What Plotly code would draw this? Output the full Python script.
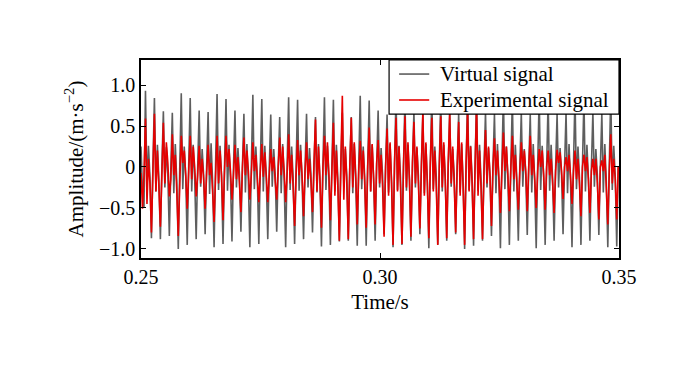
import numpy as np
import plotly.graph_objects as go

# ---------------- data ----------------
t_start = 0.25
t_step = 0.000312

virtual_signal = [
    0.25, -0.30, -0.50,
    0.93, -0.28, 0.26, -0.12, -0.87, 0.02,
    0.84, -0.30, 0.27, -0.15, -0.88, 0.00,
    0.68, -0.25, 0.24, -0.10, -0.84, -0.02,
    0.66, -0.32, 0.28, -0.18, -1.00, 0.01,
    0.90, -0.27, 0.25, -0.12, -0.95, 0.03,
    0.84, -0.30, 0.27, -0.14, -0.88, -0.01,
    0.69, -0.24, 0.22, -0.10, -0.82, 0.00,
    0.67, -0.33, 0.29, -0.17, -0.98, 0.02,
    0.89, -0.28, 0.26, -0.12, -0.94, 0.01,
    0.83, -0.29, 0.27, -0.15, -0.91, -0.02,
    0.69, -0.25, 0.23, -0.09, -0.79, 0.00,
    0.65, -0.31, 0.28, -0.18, -0.98, 0.02,
    0.88, -0.27, 0.25, -0.13, -0.94, 0.01,
    0.83, -0.30, 0.26, -0.14, -0.88, -0.01,
    0.64, -0.24, 0.22, -0.10, -0.79, 0.00,
    0.61, -0.32, 0.28, -0.17, -0.98, 0.03,
    0.85, -0.28, 0.25, -0.12, -0.94, 0.01,
    0.82, -0.29, 0.27, -0.15, -0.88, -0.02,
    0.65, -0.25, 0.23, -0.10, -0.80, 0.00,
    0.61, -0.31, 0.28, -0.17, -0.97, 0.02,
    0.85, -0.28, 0.26, -0.13, -0.95, 0.01,
    0.82, -0.30, 0.27, -0.14, -0.91, -0.01,
    0.66, -0.24, 0.22, -0.10, -0.90, 0.00,
    0.61, -0.32, 0.28, -0.18, -0.96, 0.02,
    0.87, -0.27, 0.25, -0.12, -0.96, 0.01,
    0.81, -0.30, 0.27, -0.15, -0.90, -0.01,
    0.69, -0.25, 0.23, -0.10, -0.82, 0.00,
    0.64, -0.31, 0.28, -0.17, -0.98, 0.02,
    0.88, -0.28, 0.26, -0.12, -0.95, 0.01,
    0.84, -0.29, 0.27, -0.15, -0.90, -0.02,
    0.68, -0.25, 0.23, -0.10, -0.82, 0.00,
    0.65, -0.32, 0.28, -0.17, -0.99, 0.02,
    0.89, -0.27, 0.25, -0.12, -0.95, 0.01,
    0.84, -0.30, 0.27, -0.14, -0.90, -0.01,
    0.67, -0.24, 0.22, -0.10, -0.82, 0.00,
    0.65, -0.31, 0.28, -0.18, -1.00, 0.02,
    0.89, -0.28, 0.26, -0.12, -0.96, 0.01,
    0.84, -0.29, 0.27, -0.15, -0.90, -0.02,
    0.67, -0.25, 0.23, -0.10, -0.84, 0.00,
    0.65, -0.32, 0.28, -0.17, -0.99, 0.02,
    0.88, -0.27, 0.25, -0.12, -0.95, 0.01,
    0.83, -0.30, 0.27, -0.14, -0.90, -0.01,
    0.66, -0.24, 0.22, -0.10, -0.83, 0.00,
    0.64, -0.31, 0.28, -0.18, -0.99, 0.02,
    0.87, -0.28, 0.26, -0.12, -0.95, 0.01,
    0.82, -0.29, 0.27, -0.15, -0.90, -0.02,
    0.65, -0.25, 0.23, -0.10, -0.82, 0.00,
    0.66, -0.32, 0.28, -0.17, -0.98, 0.02,
    0.88, -0.27, 0.25, -0.12, -0.95, 0.01,
    0.84, -0.30, 0.27, -0.14, -0.90, -0.01,
    0.67, -0.24, 0.22, -0.10, -0.83, 0.00,
    0.65, -0.31, 0.28, -0.18, -0.98, 0.02,
    0.90, -0.28, 0.26, -0.12, -0.97, 0.01,
]

experimental_signal = [
    -0.07, -0.51, -0.10,
    0.59, -0.45, 0.10, -0.20, -0.80, -0.05,
    0.65, -0.30, 0.20, -0.25, -0.73, -0.10,
    0.54, -0.20, 0.30, 0.05, -0.36, -0.15,
    0.40, -0.10, 0.15, -0.30, -0.84, -0.20,
    0.38, 0.05, 0.20, -0.10, -0.51, -0.05,
    0.38, -0.15, 0.25, 0.00, -0.36, -0.10,
    0.26, -0.20, 0.10, -0.15, -0.51, -0.08,
    0.27, -0.10, 0.05, -0.30, -0.67, -0.12,
    0.38, -0.20, 0.20, -0.10, -0.65, -0.05,
    0.38, 0.00, 0.22, -0.05, -0.40, -0.10,
    0.27, -0.15, 0.12, -0.20, -0.55, -0.02,
    0.36, -0.10, 0.20, -0.05, -0.40, -0.08,
    0.30, -0.05, 0.15, -0.15, -0.43, -0.05,
    0.28, -0.12, 0.18, -0.10, -0.43, -0.10,
    0.22, -0.05, 0.12, -0.18, -0.40, 0.00,
    0.36, -0.10, 0.25, -0.05, -0.43, -0.08,
    0.40, -0.20, 0.15, -0.25, -0.72, -0.10,
    0.33, -0.10, 0.20, -0.10, -0.60, -0.05,
    0.30, -0.15, 0.10, -0.20, -0.55, 0.05,
    0.58, -0.30, 0.25, -0.15, -0.74, 0.00,
    0.38, -0.10, 0.30, -0.10, -0.65, -0.05,
    0.54, -0.35, 0.20, -0.25, -0.90, 0.05,
    0.87, -0.40, 0.25, -0.20, -0.88, 0.00,
    0.60, -0.25, 0.30, -0.10, -0.70, -0.05,
    0.32, -0.15, 0.20, -0.20, -0.74, 0.00,
    0.48, -0.30, 0.28, -0.15, -0.70, 0.05,
    0.33, -0.20, 0.15, -0.25, -0.85, 0.00,
    0.47, -0.35, 0.30, -0.20, -0.95, 0.05,
    0.60, -0.30, 0.25, -0.25, -0.94, 0.00,
    0.62, -0.25, 0.30, -0.15, -0.85, 0.05,
    0.55, -0.20, 0.25, -0.20, -0.75, 0.00,
    0.68, -0.35, 0.30, -0.20, -0.87, 0.05,
    0.60, -0.30, 0.20, -0.25, -0.95, 0.00,
    0.62, -0.25, 0.30, -0.15, -0.87, 0.05,
    0.65, -0.20, 0.25, -0.20, -0.80, 0.00,
    0.55, -0.35, 0.30, -0.25, -0.95, 0.05,
    0.70, -0.30, 0.25, -0.20, -0.88, 0.00,
    0.75, -0.35, 0.20, -0.25, -0.88, -0.05,
    0.45, -0.20, 0.25, -0.10, -0.72, 0.00,
    0.35, -0.10, 0.20, -0.15, -0.56, -0.05,
    0.42, -0.05, 0.25, -0.10, -0.54, 0.00,
    0.38, -0.15, 0.15, -0.20, -0.52, -0.05,
    0.30, -0.05, 0.20, -0.05, -0.54, 0.00,
    0.38, -0.10, 0.15, -0.15, -0.50, -0.05,
    0.22, 0.00, 0.20, -0.10, -0.52, 0.00,
    0.20, -0.10, 0.10, -0.20, -0.56, -0.05,
    0.21, 0.05, 0.18, -0.05, -0.39, 0.00,
    0.12, -0.05, 0.15, -0.10, -0.45, -0.05,
    0.20, -0.15, 0.10, -0.20, -0.60, 0.00,
    0.15, -0.05, 0.12, -0.15, -0.56, -0.05,
    0.10, -0.10, 0.10, -0.20, -0.64, 0.00,
    0.08, -0.05, 0.15, -0.25, -0.70, -0.05,
    0.40, -0.20, 0.10, -0.15, -0.64, 0.00,
]

series_names = ["Virtual signal", "Experimental signal"]
series_colors = ["#5e5e5e", "#e60000"]

x_tick_vals = [0.25, 0.30, 0.35]
x_tick_text = ["0.25", "0.30", "0.35"]
y_tick_vals = [-1.0, -0.5, 0.0, 0.5, 1.0]
y_tick_text = ["\u22121.0", "\u22120.5", "0", "0.5", "1.0"]

time = t_start + t_step * np.arange(len(virtual_signal))

# ---------------- figure ----------------
FONT = "Liberation Serif, Times New Roman, serif"
FS = 20
FS_TITLE = 21

fig = go.Figure()
for name, values, color in zip(series_names, [virtual_signal, experimental_signal], series_colors):
    fig.add_trace(go.Scatter(
        x=time, y=values, mode="lines", name=name,
        line=dict(color=color, width=1.6), showlegend=False,
    ))

axis_common = dict(
    showline=True, linecolor="black", linewidth=1.5, mirror="allticks",
    ticks="inside", ticklen=5, tickwidth=1.2, tickcolor="black",
    showgrid=False, zeroline=False,
    tickfont=dict(family=FONT, size=FS, color="black"),
)

fig.update_xaxes(
    range=[0.25, 0.35], tickvals=x_tick_vals, ticktext=x_tick_text,
    title=dict(text="Time/s", font=dict(family=FONT, size=FS_TITLE, color="black"), standoff=8),
    **axis_common,
)
fig.update_yaxes(
    range=[-1.11, 1.305], tickvals=y_tick_vals, ticktext=y_tick_text,
    title=dict(text="Amplitude/(m\u00b7s<sup>\u22122</sup>)",
               font=dict(family=FONT, size=FS_TITLE, color="black"), standoff=10),
    **axis_common,
)

# ---- legend box drawn above the traces (matplotlib-like compact legend) ----
leg_x0, leg_y0 = 0.519, 0.727
line_x0, line_x1, text_x = 0.540, 0.603, 0.621
row_y = [0.929, 0.798]

shapes = [dict(type="rect", xref="paper", yref="paper", x0=leg_x0, x1=1.0, y0=leg_y0, y1=1.0,
               fillcolor="white", line=dict(color="black", width=1.2), layer="above")]
annotations = []
for name, color, yy in zip(series_names, series_colors, row_y):
    shapes.append(dict(type="line", xref="paper", yref="paper", x0=line_x0, x1=line_x1,
                       y0=yy, y1=yy, line=dict(color=color, width=1.6), layer="above"))
    annotations.append(dict(text=name, xref="paper", yref="paper", x=text_x, y=yy,
                            xanchor="left", yanchor="middle", showarrow=False,
                            font=dict(family=FONT, size=FS_TITLE, color="black")))

fig.update_layout(
    width=694, height=375,
    margin=dict(l=133, r=83, t=52, b=125),
    paper_bgcolor="white", plot_bgcolor="white",
    font=dict(family=FONT, size=FS, color="black"),
    showlegend=False,
    shapes=shapes,
    annotations=annotations,
)

fig.write_html("out.html")
